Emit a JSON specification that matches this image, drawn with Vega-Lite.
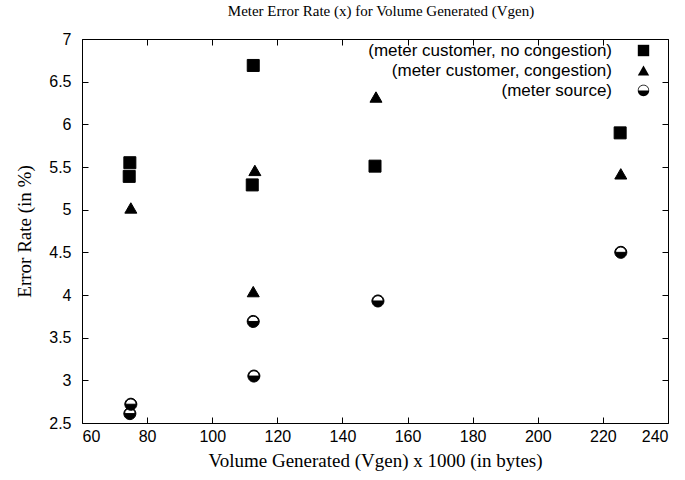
{
  "$schema": "https://vega.github.io/schema/vega-lite/v6.json",
  "width": 586,
  "height": 384,
  "autosize": {"type": "none"},
  "padding": {"left": 82, "top": 39, "right": 17, "bottom": 57},
  "background": "white",
  "title": {
    "text": "Meter Error Rate (x) for Volume Generated (Vgen)",
    "font": "Liberation Serif",
    "fontSize": 15,
    "fontWeight": "normal",
    "color": "black",
    "offset": 12,
    "dx": 6,
    "anchor": "middle"
  },
  "data": {
    "values": [
      {"series": "(meter customer, no congestion)", "x": 74.7, "y": 5.55},
      {"series": "(meter customer, no congestion)", "x": 74.5, "y": 5.39},
      {"series": "(meter customer, no congestion)", "x": 112.6, "y": 6.69},
      {"series": "(meter customer, no congestion)", "x": 112.3, "y": 5.29},
      {"series": "(meter customer, no congestion)", "x": 150, "y": 5.51},
      {"series": "(meter customer, no congestion)", "x": 225.3, "y": 5.9},
      {"series": "(meter customer, congestion)", "x": 75, "y": 5.02},
      {"series": "(meter customer, congestion)", "x": 113.1, "y": 5.46},
      {"series": "(meter customer, congestion)", "x": 112.6, "y": 4.04},
      {"series": "(meter customer, congestion)", "x": 150.3, "y": 6.32},
      {"series": "(meter customer, congestion)", "x": 225.5, "y": 5.42},
      {"series": "(meter source)", "x": 75, "y": 2.72},
      {"series": "(meter source)", "x": 74.7, "y": 2.61},
      {"series": "(meter source)", "x": 112.6, "y": 3.69},
      {"series": "(meter source)", "x": 112.8, "y": 3.05},
      {"series": "(meter source)", "x": 150.9, "y": 3.93},
      {"series": "(meter source)", "x": 225.5, "y": 4.5}
    ]
  },
  "layer": [
    {
      "mark": {"type": "point", "filled": true, "color": "black", "stroke": "black", "strokeWidth": 1, "size": 144, "opacity": 1},
      "encoding": {
        "x": {
          "field": "x", "type": "quantitative",
          "scale": {"domain": [60, 240], "nice": false, "zero": false},
          "axis": {
            "orient": "bottom",
            "title": "Volume Generated (Vgen) x 1000 (in bytes)",
            "values": [60, 80, 100, 120, 140, 160, 180, 200, 220, 240],
            "grid": false, "domain": false,
            "tickSize": -6, "tickColor": "black",
            "labelPadding": 11,
            "labelFont": "Liberation Sans", "labelFontSize": 16, "labelColor": "black",
            "titleFont": "Liberation Serif", "titleFontSize": 19, "titleFontWeight": "normal", "titleColor": "black",
            "titlePadding": 7
          }
        },
        "y": {
          "field": "y", "type": "quantitative",
          "scale": {"domain": [2.5, 7], "nice": false, "zero": false},
          "axis": {
            "orient": "left",
            "title": "Error Rate (in %)",
            "values": [2.5, 3, 3.5, 4, 4.5, 5, 5.5, 6, 6.5, 7],
            "format": "~g",
            "grid": false, "domain": false,
            "tickSize": -6, "tickColor": "black",
            "labelPadding": 17,
            "labelFont": "Liberation Sans", "labelFontSize": 16, "labelColor": "black",
            "titleFont": "Liberation Serif", "titleFontSize": 19, "titleFontWeight": "normal", "titleColor": "black",
            "titlePadding": 14
          }
        },
        "shape": {
          "field": "series", "type": "nominal",
          "scale": {
            "domain": ["(meter customer, no congestion)", "(meter customer, congestion)", "(meter source)"],
            "range": ["square", "triangle-up", "M-1,0 A1,1 0 0,0 1,0 Z M-1,0 A1,1 0 0,1 1,0 L0.88,0 A0.88,0.88 0 0,0 -0.88,0 Z"]
          },
          "legend": {
            "title": null,
            "orient": "none",
            "legendX": 553,
            "legendY": 3,
            "labelAlign": "right",
            "labelOffset": -40,
            "labelFont": "Liberation Sans",
            "labelFontSize": 17,
            "labelColor": "black",
            "symbolSize": 130,
            "symbolFillColor": "black",
            "symbolStrokeColor": "black",
            "symbolStrokeWidth": 1,
            "rowPadding": 2,
            "labelLimit": 400,
            "symbolOpacity": 1,
            "encode": {
              "symbols": {
                "update": {
                  "stroke": {"value": "black"},
                  "strokeWidth": {"value": 1},
                  "fill": {"value": "black"}
                }
              }
            }
          }
        }
      }
    },
    {
      "mark": {"type": "point", "opacity": 0},
      "encoding": {
        "x": {
          "field": "x", "type": "quantitative",
          "axis": {
            "orient": "top", "title": null, "labels": false,
            "values": [60, 80, 100, 120, 140, 160, 180, 200, 220, 240],
            "grid": false, "domain": false, "tickSize": -6, "tickColor": "black"
          }
        },
        "y": {
          "field": "y", "type": "quantitative",
          "axis": {
            "orient": "right", "title": null, "labels": false,
            "values": [2.5, 3, 3.5, 4, 4.5, 5, 5.5, 6, 6.5, 7],
            "grid": false, "domain": false, "tickSize": -6, "tickColor": "black"
          }
        }
      }
    }
  ],
  "resolve": {"axis": {"x": "independent", "y": "independent"}},
  "config": {
    "view": {"stroke": "black", "strokeWidth": 1}
  }
}
